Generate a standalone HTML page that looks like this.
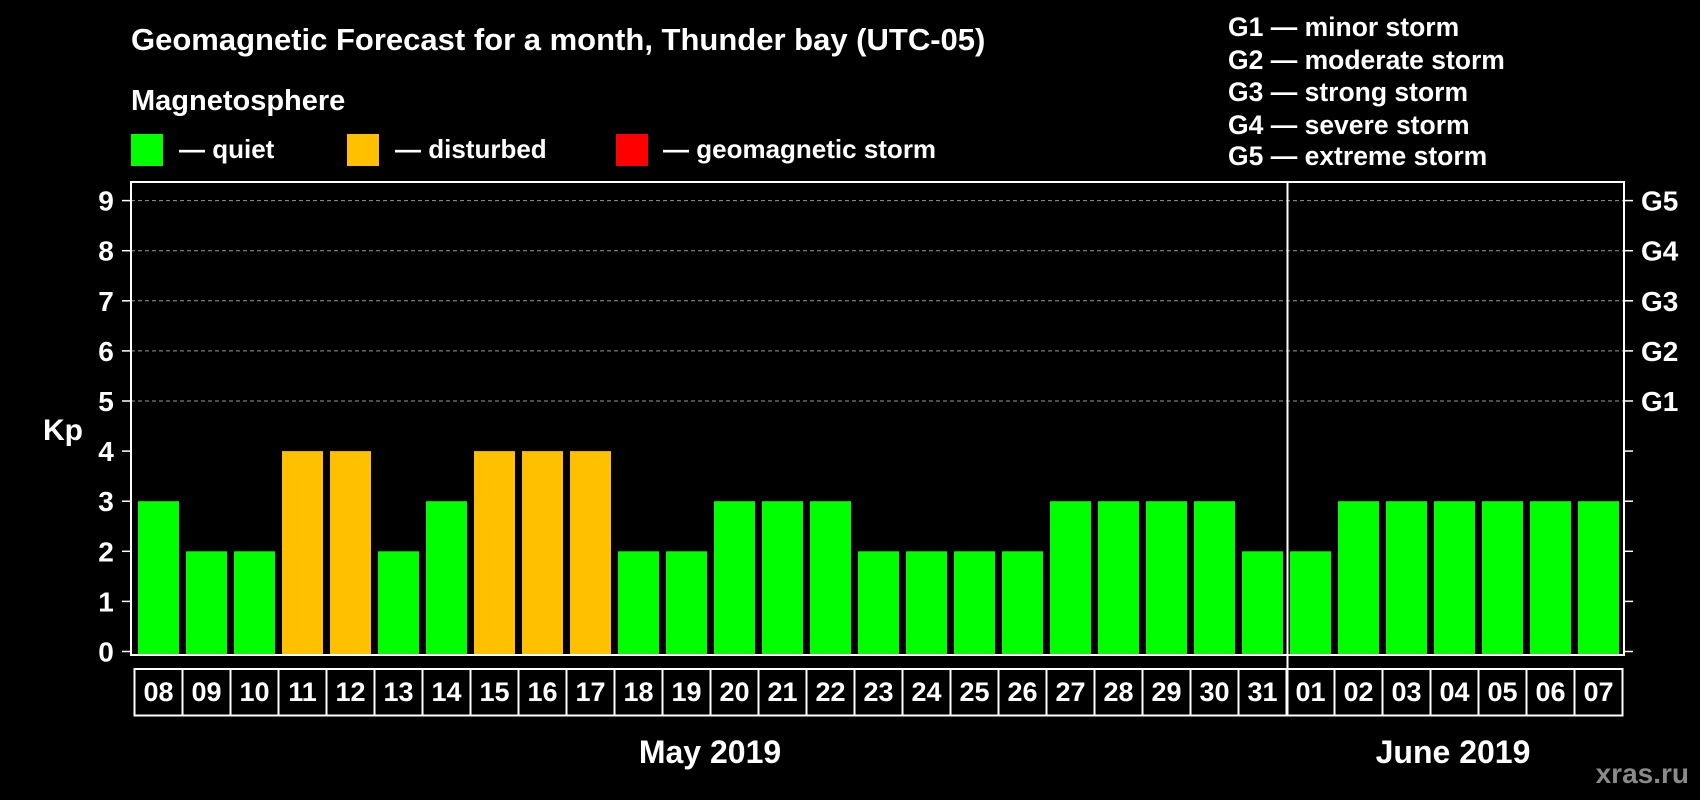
<!DOCTYPE html>
<html><head><meta charset="utf-8"><style>
html,body{margin:0;padding:0;background:#000;}
svg{display:block;font-family:"Liberation Sans",Arial,sans-serif;font-weight:bold;}
</style></head><body>
<svg id="chart" width="1700" height="800" viewBox="0 0 1700 800" xmlns="http://www.w3.org/2000/svg">
<rect width="1700" height="800" fill="#000"/>
<text x="131" y="50" fill="#fff" font-size="31">Geomagnetic Forecast for a month, Thunder bay (UTC-05)</text>
<text x="131" y="110" fill="#fff" font-size="29">Magnetosphere</text>
<rect x="131" y="134" width="32" height="32" fill="#00ff00"/>
<text x="179" y="158" fill="#fff" font-size="26">— quiet</text>
<rect x="347" y="134" width="32" height="32" fill="#ffc000"/>
<text x="395" y="158" fill="#fff" font-size="26">— disturbed</text>
<rect x="616" y="134" width="32" height="32" fill="#ff0000"/>
<text x="663" y="158" fill="#fff" font-size="26">— geomagnetic storm</text>
<g fill="#fff" font-size="26.5">
<text x="1228" y="36">G1 — minor storm</text>
<text x="1228" y="69">G2 — moderate storm</text>
<text x="1228" y="101">G3 — strong storm</text>
<text x="1228" y="134">G4 — severe storm</text>
<text x="1228" y="165">G5 — extreme storm</text>
</g>
<text x="63" y="440" fill="#fff" font-size="30" text-anchor="middle">Kp</text>
<text x="710" y="763" fill="#fff" font-size="32" text-anchor="middle">May 2019</text>
<text x="1453" y="763" fill="#fff" font-size="32" text-anchor="middle">June 2019</text>
<text x="1689" y="783" fill="#8a8a8a" font-size="28" text-anchor="end">xras.ru</text>
<g id="plot"></g>
</svg>
<script>
const days = ["08","09","10","11","12","13","14","15","16","17","18","19","20","21","22","23","24","25","26","27","28","29","30","31","01","02","03","04","05","06","07"];
const kpValues = [3,2,2,4,4,2,3,4,4,4,2,2,3,3,3,2,2,2,2,3,3,3,3,2,2,3,3,3,3,3,3];
const yTicks = [0,1,2,3,4,5,6,7,8,9];
const gLabels = ["G1","G2","G3","G4","G5"];
const gLevels = [5,6,7,8,9];
const monthSplitIndex = 24;

(function(){
const NS = "http://www.w3.org/2000/svg";
const plot = document.getElementById("plot");
const pL = 131, pR = 1624, pT = 182, pB = 655;
const y0 = 651.5, unit = 50.1;
const x0 = 134.5, pitch = 48;
function yScale(v){ return y0 - v*unit; }
function xScale(i){ return x0 + i*pitch; }
function mk(tag, attrs){ const e = document.createElementNS(NS, tag); for (const k in attrs) e.setAttribute(k, attrs[k]); plot.appendChild(e); return e; }

gLevels.forEach(function(v){
  const g = mk("line", {x1:pL, x2:pR, y1:yScale(v), y2:yScale(v), stroke:"#999", "stroke-width":1, "stroke-dasharray":"4,3"});
  
  
});
kpValues.forEach(function(v, i){
  const b = mk("rect", {x:xScale(i)+3.5, y:yScale(v), width:41, height:pB - yScale(v), fill: v>=5 ? "#ff0000" : (v>=4 ? "#ffc000" : "#00ff00")});
  
  
});
const fr = mk("rect", {x:pL, y:pT, width:pR-pL, height:pB-pT, fill:"none", stroke:"#fff", "stroke-width":2});


yTicks.forEach(function(v){
  const t1 = mk("line", {x1:pL-9, x2:pL, y1:yScale(v), y2:yScale(v), stroke:"#fff", "stroke-width":1.5});
  
  
  const t2 = mk("line", {x1:pR, x2:pR+9, y1:yScale(v), y2:yScale(v), stroke:"#fff", "stroke-width":1.5});
  
  
  const l = mk("text", {x:106, y:yScale(v)+10, fill:"#fff", "font-size":28, "text-anchor":"middle"});
  l.textContent = v;
  
  
});
gLabels.forEach(function(g, i){
  const l = mk("text", {x:1641, y:yScale(gLevels[i])+10, fill:"#fff", "font-size":28});
  l.textContent = g;
  
  
});
const boxTop = 669, boxBot = 715.5;
const db = mk("rect", {x:x0, y:boxTop, width:pitch*days.length, height:boxBot-boxTop, fill:"none", stroke:"#fff", "stroke-width":2});


days.forEach(function(d, i){
  if (i>0){
    const s = mk("line", {x1:xScale(i), x2:xScale(i), y1:boxTop, y2:boxBot, stroke:"#fff", "stroke-width":2});
    
    
  }
  const t = mk("text", {x:xScale(i)+pitch/2, y:701, fill:"#fff", "font-size":27, "text-anchor":"middle"});
  t.textContent = d;
  
  
});
const ms = mk("line", {x1:xScale(monthSplitIndex)+1, x2:xScale(monthSplitIndex)+1, y1:pT, y2:boxBot, stroke:"#fff", "stroke-width":2});


})();
</script>
</body></html>
